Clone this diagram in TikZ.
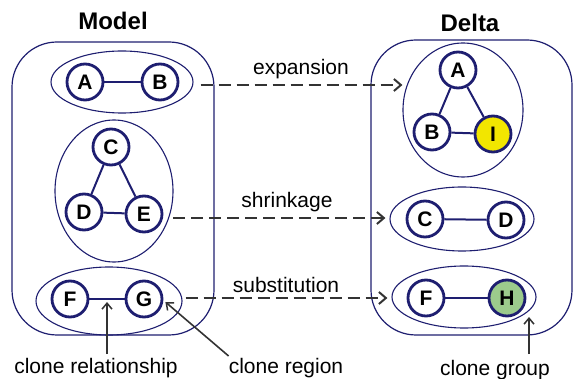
\documentclass[tikz,border=0pt]{standalone}
\usepackage{fontspec}
\setmainfont{Liberation Sans}
\usetikzlibrary{shapes.geometric,arrows.meta,calc}
\definecolor{navy}{HTML}{1E1E70}
\definecolor{dgray}{HTML}{333333}
\definecolor{cyellow}{HTML}{F2E600}
\definecolor{cgreen}{HTML}{9CCB8C}
\tikzset{
  cnode/.style={circle, draw=navy, line width=2.8pt, minimum size=36pt, inner sep=0pt, fill=white,
    font=\bfseries\fontsize{21}{21}\selectfont},
  region/.style={ellipse, draw=navy, line width=1.1pt, inner sep=0pt},
  cont/.style={rectangle, draw=navy, line width=1.2pt, rounded corners=45pt, inner sep=0pt},
  link/.style={navy, line width=2pt},
  flow/.style={draw=dgray, line width=2.4pt, dash pattern=on 12pt off 6pt,
    -{Straight Barb[length=7pt,width=12pt,line width=2pt]}},
  ann/.style={draw=dgray, line width=1.6pt, -{Straight Barb[length=6pt,width=10pt,line width=1.5pt]}},
  lbl/.style={font=\fontsize{21}{23}\selectfont, text=black, inner sep=0pt},
  ttl/.style={font=\bfseries\fontsize{24}{24}\selectfont, text=black, inner sep=0pt}
}
\begin{document}
\begin{tikzpicture}[x=1pt,y=-1pt]
\useasboundingbox (0,0) rectangle (573,379);
% titles
\node[ttl] (tModel) at (113,21) {Model};
\node[ttl] (tDelta) at (470,23) {Delta};
% containers
\node[cont, minimum width=202pt, minimum height=293pt] (model) at (113,188.5) {};
\node[cont, minimum width=201pt, minimum height=295pt] (delta) at (471.5,187.5) {};
% model regions
\node[region, minimum width=142pt, minimum height=62pt] (rAB) at (122,82) {};
\node[region, minimum width=118pt, minimum height=142pt] (rCDE) at (114,191) {};
\node[region, minimum width=146pt, minimum height=68pt] (rFG) at (109,301) {};
% delta regions
\node[region, minimum width=120pt, minimum height=134pt] (dABI) at (463,110) {};
\node[region, minimum width=144pt, minimum height=64pt] (dCD) at (462,219) {};
\node[region, minimum width=144pt, minimum height=62pt] (dFH) at (464,297) {};
% model nodes
\node[cnode] (mA) at (85,82) {A};
\node[cnode] (mB) at (160,82) {B};
\node[cnode] (mC) at (111,147) {C};
\node[cnode] (mD) at (84,212) {D};
\node[cnode] (mE) at (144,214) {E};
\node[cnode] (mF) at (70,299) {F};
\node[cnode] (mG) at (144,299) {G};
% delta nodes
\node[cnode] (dA) at (458,70) {A};
\node[cnode] (dB) at (432,132) {B};
\node[cnode, fill=cyellow] (dI) at (493,134) {I};
\node[cnode] (dC) at (425,219) {C};
\node[cnode] (dD) at (506,220) {D};
\node[cnode] (dF) at (426,298) {F};
\node[cnode, fill=cgreen] (dH) at (507,298) {H};
% links
\draw[link] (mA) -- (mB);
\draw[link] (mC) -- (mD);
\draw[link] (mC) -- (mE);
\draw[link] (mD) -- (mE);
\draw[link] (mF) -- (mG);
\draw[link] (dA) -- (dB);
\draw[link] (dA) -- (dI);
\draw[link] (dB) -- (dI);
\draw[link] (dC) -- (dD);
\draw[link] (dF) -- (dH);
% flows
\path (rAB.east) ++(7,3) coordinate (s1);
\draw[flow] (s1) -- (s1 -| dABI.west);
\node[lbl] (lExp) at (301,69) {expansion};
\path (mE.east) ++(10,4) coordinate (s2);
\draw[flow] (s2) -- ([xshift=-4pt]s2 -| dCD.west);
\node[lbl] (lShr) at (287,202) {shrinkage};
\path (rFG.east) ++(3,-3) coordinate (s3);
\draw[flow] (s3) -- ([xshift=-4pt]s3 -| dFH.west);
\node[lbl] (lSub) at (286,285) {substitution};
% annotations
\path (mF) -- (mG) coordinate[pos=0.5] (fgmid);
\node[lbl] (lRel) at (96,368) {clone relationship};
\draw[ann] ($(fgmid |- lRel.north)+(0,-4)$) -- ($(fgmid)+(0,3)$);
\node[lbl] (lReg) at (286,368) {clone region};
\draw[ann] ($(lReg.north west)+(0,-2)$) -- ($(mG.east)+(2,3)$);
\path (dFH.center) ++(65,20) coordinate (gtip);
\node[lbl] (lGrp) at (495,370) {clone group};
\draw[ann] ($(gtip |- lGrp.north)+(0,-6)$) -- (gtip);
\end{tikzpicture}
\end{document}
